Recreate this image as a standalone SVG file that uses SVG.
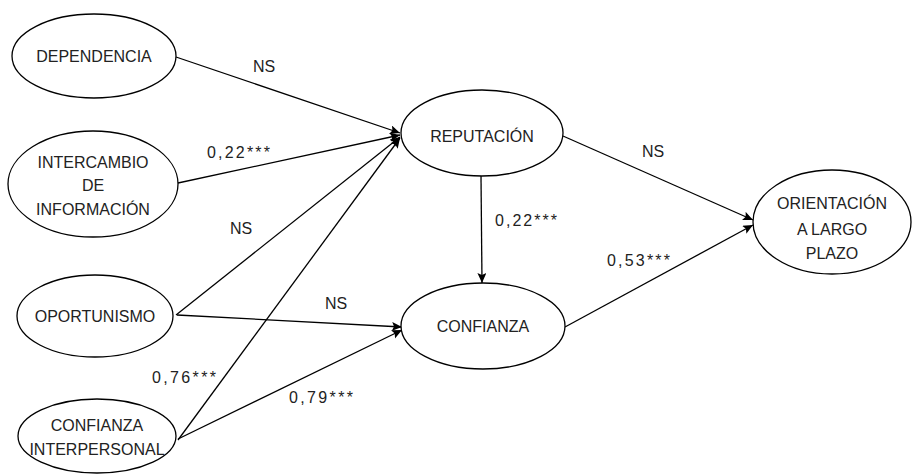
<svg xmlns="http://www.w3.org/2000/svg" width="913" height="476" viewBox="0 0 913 476">
<style>
.n{fill:#fff;stroke:#000;stroke-width:1.3}
.t{font-family:"Liberation Sans",Arial,sans-serif;font-size:16px;fill:#222;text-anchor:middle}
.l{font-family:"Liberation Sans",Arial,sans-serif;font-size:16px;fill:#222}
.c line{stroke:#000;stroke-width:1.3;marker-end:url(#a)}
</style>
<defs>
<marker id="a" markerUnits="userSpaceOnUse" markerWidth="12" markerHeight="10" refX="10" refY="4.5" orient="auto">
<path d="M0,0 L10,4.5 L0,9 L2,4.5 z" fill="#000"/>
</marker>
</defs>
<rect width="913" height="476" fill="#fff"/>
<g class="c">
<line x1="176" y1="57" x2="400" y2="133"/>
<line x1="178" y1="183" x2="400" y2="135"/>
<line x1="176" y1="315" x2="400" y2="137"/>
<line x1="178" y1="440" x2="400" y2="138"/>
<line x1="177" y1="315" x2="402" y2="327"/>
<line x1="178" y1="439" x2="402" y2="330"/>
<line x1="481" y1="176" x2="482" y2="283"/>
<line x1="563" y1="136" x2="753" y2="220"/>
<line x1="565" y1="327" x2="753" y2="225"/>
</g>
<g class="l">
<text x="253" y="72">NS</text>
<text x="207" y="158" textLength="63" lengthAdjust="spacing">0,22***</text>
<text x="230" y="234">NS</text>
<text x="325" y="309">NS</text>
<text x="152" y="383" textLength="64" lengthAdjust="spacing">0,76***</text>
<text x="289" y="403" textLength="64" lengthAdjust="spacing">0,79***</text>
<text x="495" y="226" textLength="62" lengthAdjust="spacing">0,22***</text>
<text x="607" y="266" textLength="63" lengthAdjust="spacing">0,53***</text>
<text x="642" y="157">NS</text>
</g>
<g id="dependencia"><ellipse class="n" cx="94" cy="56" rx="82" ry="42"/><text class="t" x="94" y="62">DEPENDENCIA</text></g>
<g id="intercambio"><ellipse class="n" cx="93" cy="184" rx="85" ry="53"/><text class="t" x="93" y="168">INTERCAMBIO</text><text class="t" x="93" y="191">DE</text><text class="t" x="93" y="215">INFORMACIÓN</text></g>
<g id="oportunismo"><ellipse class="n" cx="95" cy="316" rx="78" ry="41"/><text class="t" x="95" y="322">OPORTUNISMO</text></g>
<g id="confianza-interpersonal"><ellipse class="n" cx="97" cy="436" rx="79" ry="37"/><text class="t" x="97" y="431">CONFIANZA</text><text class="t" x="97" y="455">INTERPERSONAL</text></g>
<g id="reputacion"><ellipse class="n" cx="482" cy="133" rx="81" ry="43"/><text class="t" x="482" y="142">REPUTACIÓN</text></g>
<g id="confianza"><ellipse class="n" cx="483" cy="326" rx="82" ry="43"/><text class="t" x="483" y="332">CONFIANZA</text></g>
<g id="orientacion"><ellipse class="n" cx="832" cy="222" rx="79" ry="52"/><text class="t" x="832" y="209">ORIENTACIÓN</text><text class="t" x="832" y="235">A LARGO</text><text class="t" x="832" y="259">PLAZO</text></g>
</svg>
